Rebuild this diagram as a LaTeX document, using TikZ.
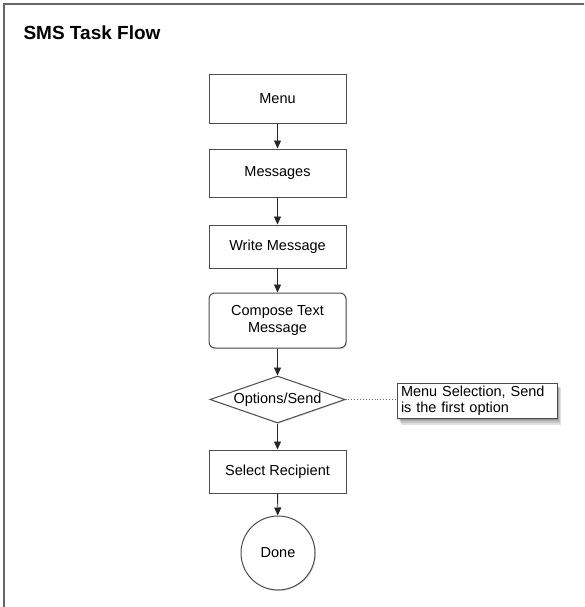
\documentclass[tikz,border=0pt]{standalone}
\usepackage{fontspec}
\setmainfont{Liberation Sans}
\usetikzlibrary{shapes.geometric,arrows.meta,shadows}

\tikzset{
  flowbox/.style={draw=black!70, line width=1pt, fill=white,
    minimum width=137pt, inner sep=0pt, align=center,
    font=\fontsize{14.5}{16.5}\selectfont,
    drop shadow={shadow xshift=1pt, shadow yshift=-1pt, opacity=0.25}},
  decision/.style={flowbox, diamond, aspect=2.9, minimum width=135pt, minimum height=47pt},
  terminal/.style={flowbox, circle, minimum width=74pt},
  notebox/.style={draw=black!70, line width=0.9pt, fill=white, align=left,
    font=\fontsize{14.5}{16.5}\selectfont, inner xsep=4pt, inner ysep=2pt,
    minimum width=160pt, minimum height=35pt, text width=152pt},
  softshadow/.style={fill=black, opacity=0.12, draw=none},
  flowarrow/.style={draw=black!85, line width=0.9pt,
    -{Triangle[length=8pt,width=7pt]}},
  noteline/.style={draw=black!60, line width=0.9pt, dotted}
}

\begin{document}
\begin{tikzpicture}[x=1pt, y=-1pt]
  \useasboundingbox (0,0) rectangle (584,607);
  \clip (0,0) rectangle (584,607);

  % page frame, running off the right and bottom edges
  \draw[black!60, line width=2pt] (4,4) rectangle (640,660);

  \node[anchor=base west, font=\bfseries\fontsize{19}{22}\selectfont] (title) at (20,40) {SMS Task Flow};

  \node[flowbox, minimum height=48pt] (menu) at (277.5,99) {Menu};
  \node[flowbox, minimum height=48pt] (msgs) at (277.5,173) {Messages};
  \node[flowbox, minimum height=43pt] (write) at (277.5,246.5) {Write Message};
  \node[flowbox, rounded corners=6pt, minimum height=55pt] (compose) at (277.5,320.5) {Compose Text\\Message};
  \node[decision] (opts) at (277.5,399.5) {Options/Send};
  \node[flowbox, minimum height=43pt] (recip) at (277.5,471.5) {Select Recipient};
  \node[terminal] (done) at (278,553) {Done};

  % annotation with a soft, layered shadow below and to the right
  \path[softshadow] (401,388) rectangle (561,425);
  \path[softshadow] (400,387) rectangle (560,423);
  \path[softshadow] (399,386) rectangle (559,421);
  \path[softshadow] (398,385) rectangle (558,420);
  \node[notebox] (note) at (477,400.5) {Menu Selection, Send\\is the first option};

  \draw[flowarrow] (menu) -- (msgs);
  \draw[flowarrow] (msgs) -- (write);
  \draw[flowarrow] (write) -- (compose);
  \draw[flowarrow] (compose) -- (opts);
  \draw[flowarrow] (opts) -- (recip);
  \draw[flowarrow] (recip) -- (done);

  \draw[noteline] (opts.east) -- (note.west |- opts.east);
\end{tikzpicture}
\end{document}
